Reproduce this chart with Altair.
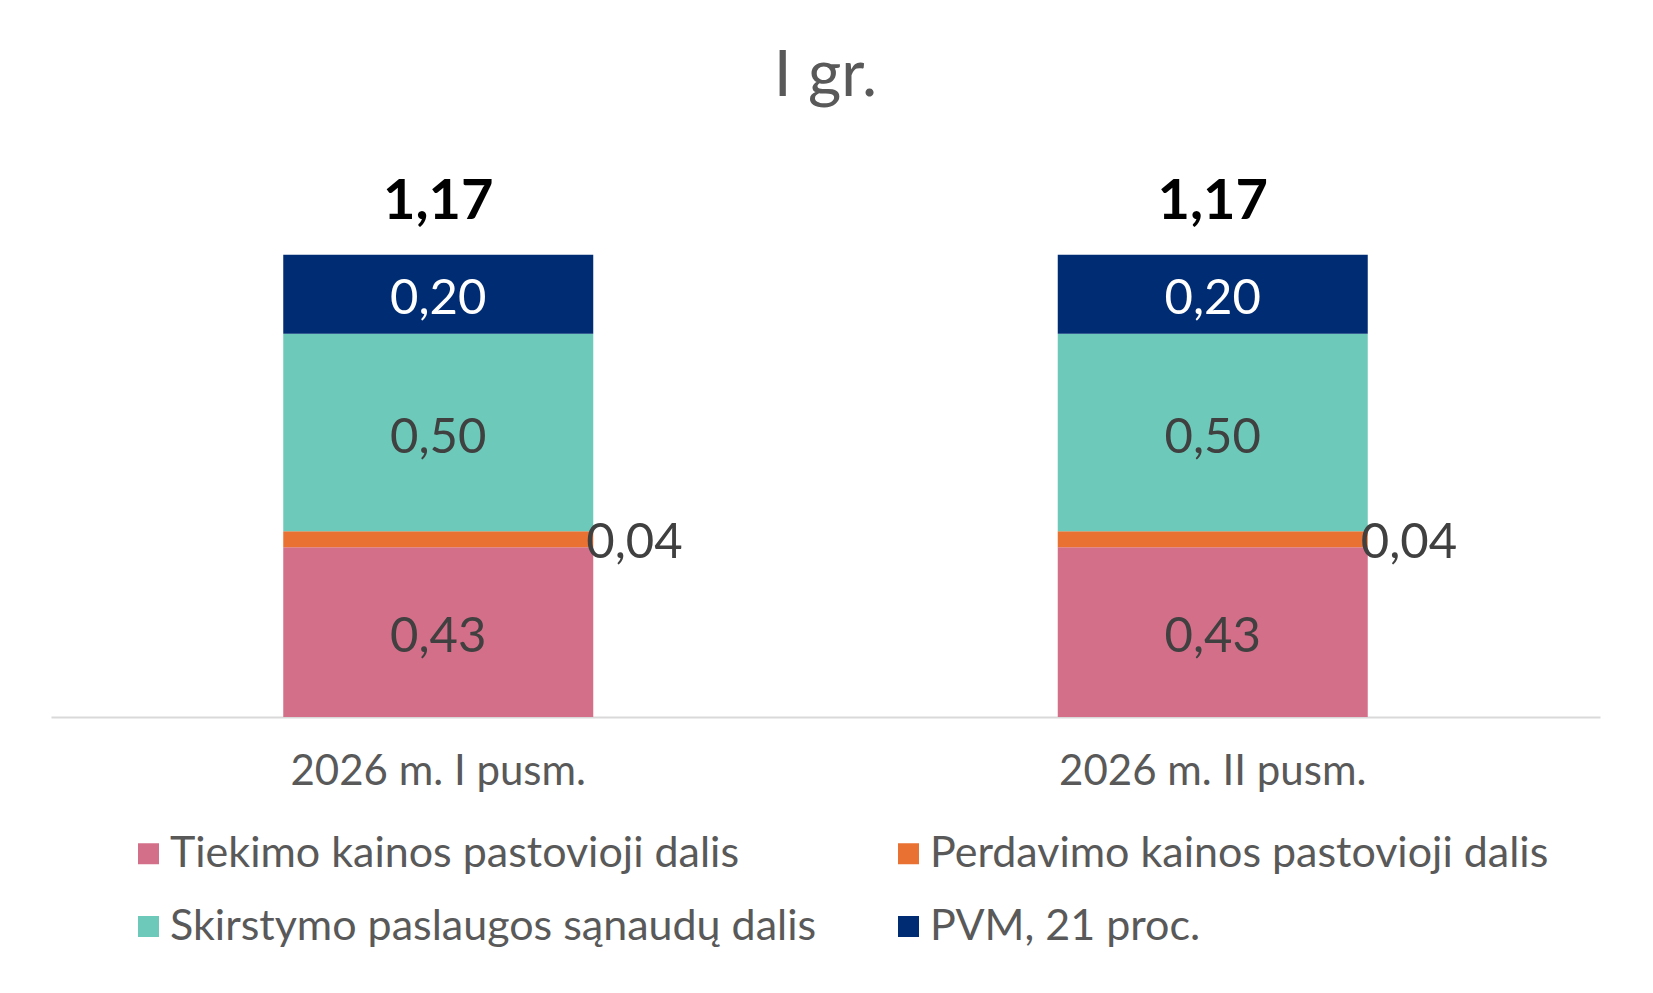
import altair as alt
import pandas as pd

# values
periods = ["2026 m. I pusm.", "2026 m. II pusm."]
components = [
    "Tiekimo kainos pastovioji dalis",
    "Perdavimo kainos pastovioji dalis",
    "Skirstymo paslaugos sąnaudų dalis",
    "PVM, 21 proc.",
]
colors = ["#D46F8A", "#E97132", "#6DCABA", "#002C73"]
values_h1 = [0.43, 0.04, 0.50, 0.20]
values_h2 = [0.43, 0.04, 0.50, 0.20]

rows = []
for period, vals in zip(periods, [values_h1, values_h2]):
    for i, (comp, v) in enumerate(zip(components, vals)):
        rows.append({"period": period, "component": comp, "idx": i, "value": v,
                     "label": f"{v:.2f}".replace(".", ",")})
df = pd.DataFrame(rows)

FONT = "Lato"

x_enc = alt.X(
    "period:N", sort=periods,
    scale=alt.Scale(paddingInner=0, paddingOuter=0),
    axis=alt.Axis(title=None, labelAngle=0, ticks=False, grid=False,
                  domainColor="#D9D9D9", domainWidth=2,
                  labelFont=FONT, labelFontSize=42, labelColor="#595959",
                  labelPadding=34, labelLimit=700),
)
y_scale = alt.Scale(domain=[0, 1.4], nice=False)

base = alt.Chart(df).transform_stack(
    stack="value", groupby=["period"],
    sort=[alt.SortField("idx", order="ascending")],
    as_=["y0", "y1"],
).transform_calculate(mid="(datum.y0 + datum.y1) / 2")

bars = base.mark_bar(size=310).encode(
    x=x_enc,
    y=alt.Y("y0:Q", scale=y_scale, axis=None),
    y2="y1:Q",
    color=alt.Color(
        "component:N",
        scale=alt.Scale(domain=components, range=colors),
        legend=alt.Legend(
            title=None, orient="none", legendX=76, legendY=668,
            columns=2, direction="horizontal", gridAlign="all",
            symbolType="square", symbolSize=441, symbolStrokeWidth=0,
            labelFont=FONT, labelFontSize=43, labelColor="#595959",
            labelOffset=0, labelLimit=900, rowPadding=29,
            columnPadding=70, padding=0,
        ),
    ),
)

inside = base.transform_filter("datum.idx != 1").mark_text(
    font=FONT, fontSize=49, baseline="middle", dy=5
).encode(
    x=alt.X("period:N", sort=periods),
    y=alt.Y("mid:Q", scale=y_scale),
    text="label:N",
    color=alt.condition("datum.idx == 3", alt.value("white"), alt.value("#404040")),
)

outside = base.transform_filter("datum.idx == 1").mark_text(
    font=FONT, fontSize=49, baseline="middle", align="left", dx=148, dy=4,
    color="#404040",
).encode(
    x=alt.X("period:N", sort=periods),
    y=alt.Y("mid:Q", scale=y_scale),
    text="label:N",
)

totals = alt.Chart(df).transform_aggregate(
    total="sum(value)", groupby=["period"]
).transform_calculate(
    tlabel="replace(format(datum.total, '.2f'), '.', ',')"
).mark_text(
    font=FONT, fontSize=56, fontWeight="bold", color="black",
    baseline="alphabetic", dy=-36,
).encode(
    x=alt.X("period:N", sort=periods),
    y=alt.Y("total:Q", scale=y_scale),
    text="tlabel:N",
)

chart = alt.layer(bars, inside, outside, totals).properties(
    width=1549,
    height=553,
    title=alt.Title("I gr.", font=FONT, fontSize=64, fontWeight="normal",
                    color="#595959", offset=55),
    padding={"left": 43, "top": 37, "right": 30, "bottom": 20},
).configure_view(strokeWidth=0)

chart.save("out.html", embed_options={"renderer": "svg", "actions": False})
